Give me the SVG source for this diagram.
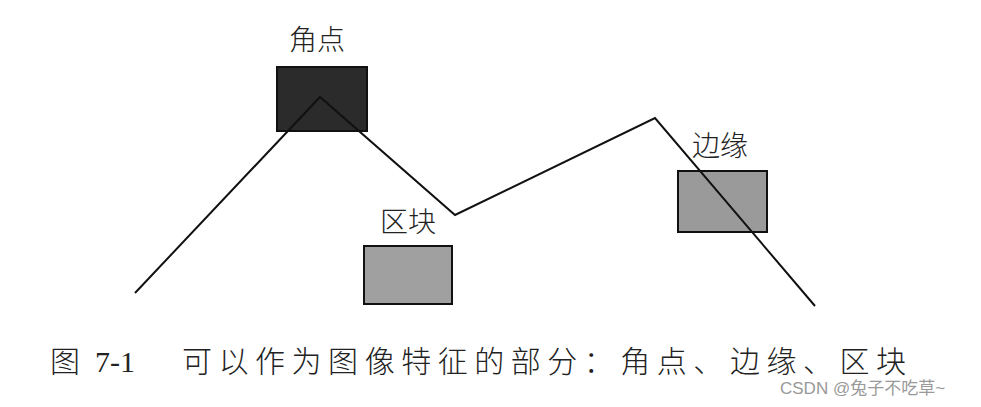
<svg xmlns="http://www.w3.org/2000/svg" width="981" height="407" viewBox="0 0 981 407">
<style>
.lbl{font-family:"Noto Sans CJK SC","Liberation Serif",serif;font-size:28px;fill:#222;font-weight:300}
.cap{font-family:"Liberation Serif","Noto Sans CJK SC",serif;font-size:30px;fill:#222}
.capc{font-family:"Noto Sans CJK SC",serif;font-size:30px;fill:#222;font-weight:300}
.box{stroke:#111;stroke-width:2}
</style>
<rect width="981" height="407" fill="#fff"/>
<g id="corner">
<rect class="box" x="277" y="67" width="90" height="64" fill="#2b2b2b"/>
<text class="lbl" x="317" y="50" text-anchor="middle">角点</text>
</g>
<g id="block">
<rect class="box" x="364" y="246" width="88" height="58" fill="#a0a0a0"/>
<text class="lbl" x="408" y="232" text-anchor="middle">区块</text>
</g>
<g id="edge">
<rect class="box" x="678" y="171" width="89" height="61" fill="#9a9a9a"/>
<text class="lbl" x="720" y="156" text-anchor="middle">边缘</text>
</g>
<g id="connectors">
<polyline points="135,293 320,97 455,215 655,118 815,306" fill="none" stroke="#111" stroke-width="2"/>
</g>
<g id="caption">
<text class="capc" x="50" y="372">图</text>
<text class="cap" x="95" y="372" font-size="31">7-1</text>
<text class="capc" x="182" y="372" textLength="724" lengthAdjust="spacing">可以作为图像特征的部分：角点、边缘、区块</text>
<text x="780" y="394" font-family="Liberation Sans,Noto Sans CJK SC,sans-serif" font-size="17" fill="#999">CSDN @兔子不吃草~</text>
</g>
</svg>
